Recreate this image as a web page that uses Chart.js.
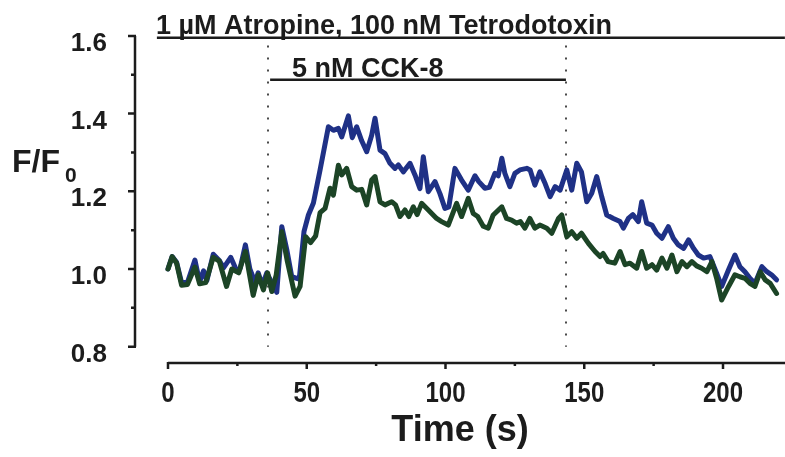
<!DOCTYPE html>
<html>
<head>
<meta charset="utf-8">
<script src="https://cdn.jsdelivr.net/npm/chart.js@4.4.1/dist/chart.umd.min.js"></script>
<style>
  html, body { margin: 0; padding: 0; background: #fff; }
  canvas { display: block; }
</style>
</head>
<body>
<canvas id="c" width="785" height="457"></canvas>
<script>
// F/F0 traces (time in s)
const blueTime = [0,1.5,3.1,4.9,7,9.7,11.4,12.8,14,16.3,18.5,20,22.6,24.8,26,27.9,29.5,31.4,32.5,34,35.6,37.4,39.2,41,42.8,44.6,47.3,49,50.6,52.4,54.8,57.8,59.6,61.4,62.6,65,66.4,68,69.8,71.6,73.4,74.6,76.4,78.2,80,81.8,83,84.8,87.2,89,90.8,92,93.8,96.2,98,99.8,101.2,103.4,105.8,108.2,110.6,112,114.2,115.8,117.8,119,120.3,121.4,123.2,125,126.8,129.3,130.5,132.2,134,135.9,137.7,139.5,141.3,143.7,145.5,147.3,149,150.9,152.7,154.5,156.3,158.1,160.5,162.9,164.1,165.9,167.5,169.5,170.7,172.5,174.4,176.1,178,180.3,182.1,183.9,185.8,187.6,189.4,191.1,193,195.3,197.7,199.5,202,204.3,206.1,207.9,209.7,211.5,214,215.8,217.5,219.3];
const blueRatio = [1.000,1.032,1.017,0.965,0.965,1.023,0.967,0.995,0.970,1.038,1.022,1.003,1.030,0.995,1.002,1.062,1.000,0.965,0.990,0.958,0.990,0.965,0.940,1.109,1.050,0.980,0.974,1.096,1.139,1.170,1.255,1.366,1.357,1.362,1.340,1.394,1.338,1.366,1.330,1.302,1.344,1.388,1.306,1.297,1.272,1.259,1.268,1.250,1.272,1.242,1.207,1.289,1.199,1.225,1.194,1.156,1.160,1.259,1.229,1.203,1.240,1.225,1.208,1.210,1.246,1.240,1.285,1.246,1.212,1.246,1.255,1.259,1.255,1.216,1.250,1.220,1.186,1.212,1.203,1.255,1.203,1.272,1.250,1.173,1.195,1.238,1.186,1.139,1.130,1.122,1.105,1.130,1.140,1.122,1.173,1.118,1.113,1.092,1.079,1.109,1.079,1.062,1.053,1.075,1.053,1.036,1.028,1.032,0.989,0.955,0.998,1.036,1.006,0.993,0.976,0.963,1.006,0.993,0.985,0.972];

const greenTime = [0,1.5,3.1,4.9,7,9.7,11.4,13.6,16.3,18.5,21.1,23,25.5,27.9,30.7,32.5,34.4,35.9,37.4,39,41,43,45.8,47.6,49.6,51.4,53.2,54.8,56.6,58.4,59.6,61.4,62.6,64.4,66.2,68,69.8,71.6,73.4,74.6,76.4,78.2,80.6,82,83.6,85.4,86.8,88.4,89.8,91.4,93.8,96.8,98.6,101,104,105.8,108.2,110,111.6,113.6,115.4,117.2,120.3,122,123.8,125.6,127,128.6,130.4,132.2,134,136.5,138.3,140.7,141.9,143.7,145.5,147.3,149,151.5,153.9,155.7,156.8,158.6,161,162.9,164.7,166.5,168.9,170.7,172.5,174.4,176.1,178,179.8,181.6,183.4,185.2,187,188.8,190.5,192.3,194.2,196,197.7,199.5,202,204.3,206.1,207.9,209.7,211.5,213.4,215.2,217,219.3];
const greenRatio = [1.000,1.032,1.015,0.958,0.960,1.005,0.962,0.965,1.030,1.020,0.955,1.000,0.990,1.045,0.932,0.985,0.946,0.990,0.942,0.985,1.096,1.020,0.930,0.955,1.083,1.068,1.085,1.145,1.156,1.208,1.190,1.267,1.242,1.259,1.212,1.203,1.205,1.165,1.229,1.238,1.173,1.165,1.173,1.165,1.135,1.152,1.135,1.160,1.140,1.169,1.152,1.130,1.122,1.113,1.169,1.135,1.182,1.143,1.135,1.110,1.105,1.139,1.160,1.130,1.126,1.118,1.122,1.105,1.130,1.105,1.113,1.105,1.092,1.130,1.139,1.083,1.096,1.079,1.092,1.066,1.045,1.032,1.040,1.019,1.015,1.045,1.011,1.015,1.002,1.045,1.002,1.011,0.997,1.028,1.002,1.036,0.993,1.019,1.006,1.019,1.008,1.002,0.993,1.019,0.976,0.920,0.955,0.985,0.980,0.976,0.963,0.955,0.993,0.972,0.963,0.937];

// axis ticks
const xTickValues = [0, 50, 100, 150, 200];
const xMinorTicks = [25, 75, 125, 175];
const yTickValues = [0.8, 1.0, 1.2, 1.4, 1.6];
const yMinorTicks = [0.9, 1.1, 1.3, 1.5];

// drug application bars: [start s, end s, F/F0 level]
const atropineBar = [-4, 222.3, 1.595];
const cckBar = [36.8, 143.4, 1.487];
const cckMarks = [35.9, 143.4]; // dotted lines
const atropineLabel = '1 \u00B5M Atropine, 100 nM Tetrodotoxin';
const cckLabel = '5 nM CCK-8';

const FONT = '"Liberation Sans", Arial, Helvetica, sans-serif';
const INK = '#1c1c1c';

const toPoints = (ts, vs) => ts.map((t, i) => ({ x: t, y: vs[i] }));

// axes, drug bars, markers and the F/F0 label
const decor = {
  id: 'decor',
  beforeDatasetsDraw(chart) {
    const { ctx, scales: { x, y } } = chart;
    ctx.save();
    ctx.strokeStyle = '#4a4a4a';
    ctx.lineWidth = 2;
    ctx.setLineDash([2, 10]);
    cckMarks.forEach(t => {
      const px = Math.round(x.getPixelForValue(t));
      ctx.beginPath();
      ctx.moveTo(px, y.getPixelForValue(1.575));
      ctx.lineTo(px, y.getPixelForValue(0.8));
      ctx.stroke();
    });
    ctx.restore();
  },
  afterDraw(chart) {
    const { ctx, scales: { x, y } } = chart;
    ctx.save();
    ctx.strokeStyle = INK;
    ctx.lineWidth = 2.5;
    ctx.lineCap = 'butt';

    // y axis (detached, left)
    const ax = 135;
    ctx.beginPath();
    ctx.moveTo(ax, y.getPixelForValue(1.6));
    ctx.lineTo(ax, y.getPixelForValue(0.8));
    yTickValues.forEach(v => { const py = y.getPixelForValue(v); ctx.moveTo(ax + 1, py); ctx.lineTo(ax - 7, py); });
    yMinorTicks.forEach(v => { const py = y.getPixelForValue(v); ctx.moveTo(ax + 1, py); ctx.lineTo(ax - 4, py); });
    ctx.stroke();

    // x axis (detached, bottom)
    const ay = chart.chartArea.bottom;
    ctx.beginPath();
    ctx.moveTo(x.getPixelForValue(0), ay);
    ctx.lineTo(chart.width, ay);
    xTickValues.forEach(v => { const px = x.getPixelForValue(v); ctx.moveTo(px, ay - 1); ctx.lineTo(px, ay + 6); });
    xMinorTicks.forEach(v => { const px = x.getPixelForValue(v); ctx.moveTo(px, ay - 1); ctx.lineTo(px, ay + 3); });
    ctx.stroke();

    // x tick labels, condensed like the original
    ctx.fillStyle = INK;
    ctx.textAlign = 'center';
    ctx.textBaseline = 'alphabetic';
    ctx.font = 'bold 30px ' + FONT;
    xTickValues.forEach(v => {
      ctx.save();
      ctx.translate(x.getPixelForValue(v), ay + 39);
      ctx.scale(0.8, 1);
      ctx.fillText(String(v), 0, 0);
      ctx.restore();
    });

    // drug bars
    [atropineBar, cckBar].forEach(b => {
      const py = y.getPixelForValue(b[2]);
      ctx.beginPath();
      ctx.moveTo(x.getPixelForValue(b[0]), py);
      ctx.lineTo(x.getPixelForValue(b[1]), py);
      ctx.stroke();
    });

    ctx.textAlign = 'left';
    ctx.font = 'bold 27px ' + FONT;
    ctx.fillText(atropineLabel, x.getPixelForValue(atropineBar[0]) - 1, y.getPixelForValue(atropineBar[2]) - 4);
    ctx.fillText(cckLabel, x.getPixelForValue(44.7), y.getPixelForValue(cckBar[2]) - 3);

    // F/F0
    ctx.font = 'bold 32px ' + FONT;
    ctx.fillText('F/F', 12, 172);
    ctx.font = 'bold 21px ' + FONT;
    ctx.fillText('0', 65, 182);
    ctx.restore();
  }
};

new Chart(document.getElementById('c'), {
  type: 'line',
  data: {
    datasets: [
      { label: 'green', data: toPoints(greenTime, greenRatio), borderColor: '#1c4426', borderWidth: 5, pointRadius: 0, tension: 0, borderJoinStyle: 'round', borderCapStyle: 'round' },
      { label: 'blue', data: toPoints(blueTime, blueRatio), borderColor: '#1f3186', borderWidth: 5, pointRadius: 0, tension: 0, borderJoinStyle: 'round', borderCapStyle: 'round' }
    ]
  },
  options: {
    responsive: false,
    devicePixelRatio: 1,
    animation: false,
    layout: { padding: 0 },
    plugins: { legend: { display: false }, tooltip: { enabled: false } },
    scales: {
      x: {
        type: 'linear',
        min: -11.89,
        max: 222.34,
        grid: { display: false },
        border: { display: false },
        afterFit: axis => { axis.height = 94; axis.paddingLeft = 0; axis.paddingRight = 0; },
        ticks: { display: false },
        title: { display: true, text: 'Time (s)', color: INK, padding: { top: 0, bottom: 4 }, font: { family: FONT, size: 36, weight: 'bold' } }
      },
      y: {
        type: 'linear',
        min: 0.758,
        max: 1.6924,
        grid: { display: false },
        border: { display: false },
        afterBuildTicks: axis => { axis.ticks = yTickValues.map(v => ({ value: v })); },
        afterFit: axis => { axis.width = 135; axis.paddingTop = 0; axis.paddingBottom = 0; },
        ticks: { color: INK, padding: 20, labelOffset: 8, callback: v => v.toFixed(1), font: { family: FONT, size: 26, weight: 'bold' } }
      }
    }
  },
  plugins: [decor]
});
</script>
</body>
</html>
